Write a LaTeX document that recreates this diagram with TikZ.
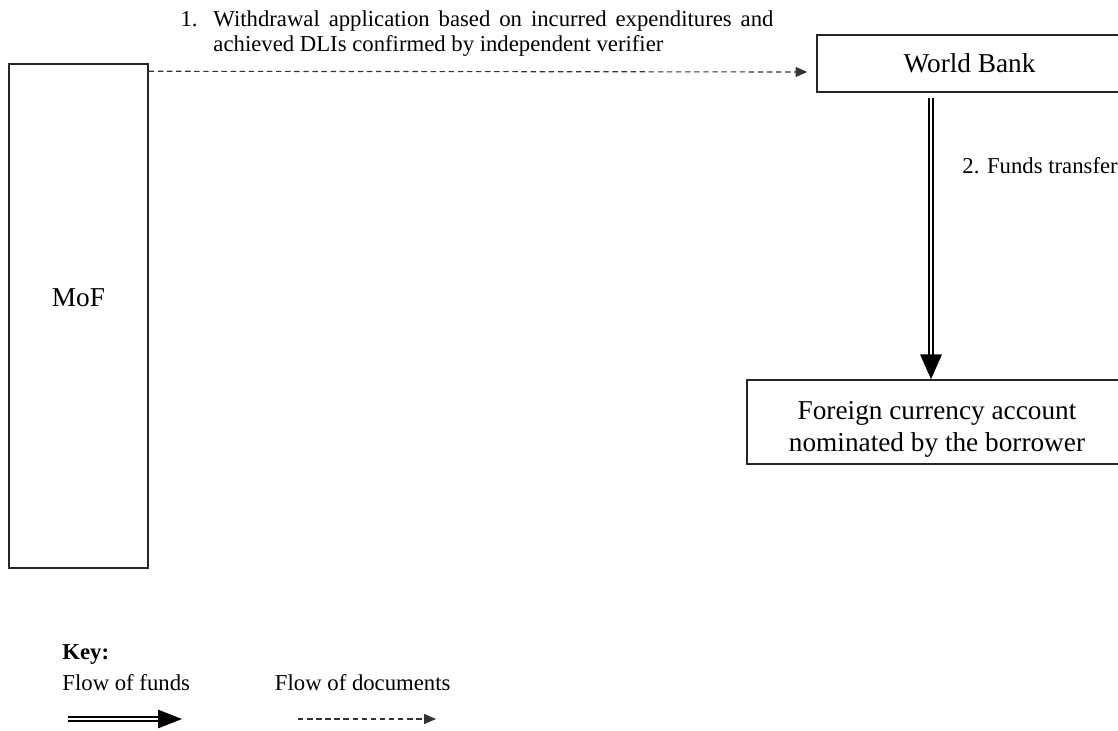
\documentclass[tikz,border=0pt]{standalone}
\usepackage{fontspec}
\setmainfont{Liberation Serif}
\usetikzlibrary{arrows.meta, positioning, calc}

\begin{document}
\begin{tikzpicture}[
    x=0.44pt, y=-0.44pt,
    entitybox/.style={rectangle, draw=black!85, line width=0.6pt, text centered, font=\fontsize{12}{13.2}\selectfont, align=center, inner sep=0pt},
    note/.style={font=\fontsize{10}{11}\selectfont, inner sep=0pt},
    fundsarrow/.style={-{Triangle[length=11pt, width=9.5pt]}, draw=black, line width=0.75pt, double distance=0.9pt},
    docarrow/.style={-{Triangle[length=5.2pt, width=4.4pt]}, draw=black!80, line width=0.5pt, dash pattern=on 2.4pt off 1.6pt},
]
\clip (0,0) rectangle (1118,730);
\node[entitybox, minimum width=61.2pt, minimum height=221.8pt] (mof) at (78.5,316) {};
\node[entitybox, draw=none] (moftext) at ($(mof.center)+(0,-18)$) {MoF};
\node[entitybox, minimum width=134.2pt, minimum height=25.1pt] (wb) at (969.5,63.5) {World Bank};
\node[entitybox, minimum width=167.2pt, minimum height=37pt] (fca) at (937,422)
    {\raisebox{-3.3pt}[\height][\depth]{\shortstack{Foreign currency account\\nominated by the borrower}}};

\node[note, anchor=north west, text width=246.4pt, align=justify] (withdrawal) at (213,10)
    {\noindent\llap{\makebox[14.5pt][l]{1.}}Withdrawal application based on incurred expenditures and achieved DLIs confirmed by independent verifier};
\node[note, anchor=west] (transfer) at (962,166) {2. Funds transfer};

\draw[docarrow] ($(mof.north east)+(0,8)$) -- ($(wb.west)+(-9,8.5)$);
\draw[fundsarrow] ($(wb.south)+(-38.5,5)$) -- ($(fca.north)+(-6,0)$);

% key
\node[note, font=\bfseries\fontsize{10}{11}\selectfont, anchor=base west] (key) at (62,659) {Key:};
\node[note, anchor=base west] (keyfunds) at (62,690) {Flow of funds};
\node[note, base right=37pt of keyfunds] (keydocs) {Flow of documents};
\coordinate (fundsfrom) at (68,719);
\coordinate (fundsto) at (182,719);
\coordinate (docsfrom) at (298,719);
\coordinate (docsto) at (436,719);
\draw[fundsarrow, -{Triangle[length=10.5pt, width=8pt]}] (fundsfrom) -- (fundsto);
\draw[docarrow] (docsfrom) -- (docsto);
\end{tikzpicture}
\end{document}
